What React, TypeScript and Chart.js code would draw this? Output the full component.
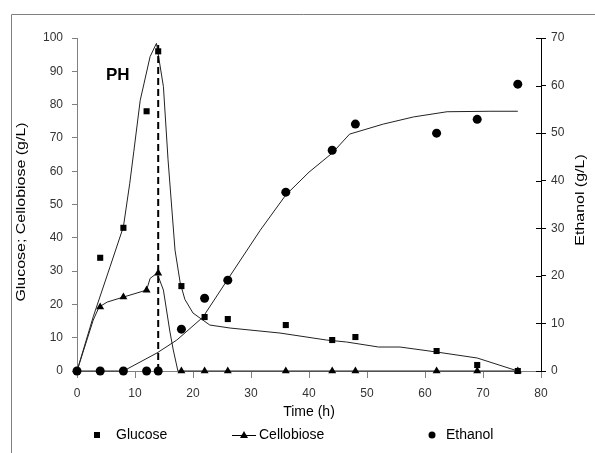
import React, { useEffect, useRef } from 'react';
import { Chart, registerables } from 'chart.js';
Chart.register(...registerables);

// Measured samples
const sampleTimes = [0, 4, 8, 12, 14, 18, 22, 26, 36, 44, 48, 62, 69, 76];
const glucose = [0, 34, 43, 78, 96, 25.5, 16.2, 15.6, 13.8, 9.3, 10.2, 6, 1.8, 0];
const cellobiose = [0, 19.2, 22.2, 24.3, 29.4, 0, 0, 0, 0, 0, 0, 0, 0, 0];
const ethanol = [0, 0, 0, 0, 0, 8.8, 15.3, 19.1, 37.6, 46.4, 51.9, 50, 52.9, 60.3];

// Model curves
const glucoseModelTimes = [0, 2.8, 5.7, 8, 9.1, 9.8, 10.9, 12.6, 13.7, 14.9, 15.7, 16.9, 17.8, 18.6, 20, 22.9, 26.4, 35, 43, 46.5, 52, 55.7, 62, 69, 76];
const glucoseModel = [0, 16.3, 31.3, 43.3, 56.4, 66, 81.3, 94.4, 98.4, 85.4, 63.4, 36.3, 26.4, 21.5, 17.4, 13.8, 12.9, 11.4, 9.3, 8.7, 7.2, 7.2, 5.7, 3.9, 0];
const cellobioseModelTimes = [0, 2.8, 3.8, 5.2, 8, 12, 12.6, 13.8, 14.9, 16, 16.6, 17.4, 76];
const cellobioseModel = [0, 15.3, 19.2, 20.7, 22.2, 24.3, 27.8, 29.4, 24.3, 12, 6.3, 0, 0];
const ethanolModelTimes = [0, 8, 13.8, 17.2, 21.7, 25.9, 31.6, 36, 40, 44, 47, 52.8, 58, 63.8, 71.2, 76];
const ethanolModel = [0, 0, 3.8, 6.5, 11.3, 19.1, 29.6, 37, 41.8, 45.8, 49.8, 51.9, 53.4, 54.5, 54.6, 54.6];

// Dashed marker line at the glucose peak
const peakTime = [14, 14];
const peakLine = [0, 98.5];

const xTicks = { min: 0, max: 80, step: 10 };
const leftTicks = { min: 0, max: 100, step: 10 };
const rightTicks = { min: 0, max: 70, step: 10 };

const labels = {
  x: 'Time (h)',
  left: 'Glucose; Cellobiose (g/L)',
  right: 'Ethanol (g/L)',
  tag: 'PH',
  legend: ['Glucose', 'Cellobiose', 'Ethanol'],
};

const zip = (xs: number[], ys: number[]) => xs.map((x, i) => ({ x, y: ys[i] }));

const FONT = '"Liberation Sans", Arial, sans-serif';

const decorPlugin = {
  id: 'decor',
  afterDraw(chart: any) {
    const ctx = chart.ctx as CanvasRenderingContext2D;
    const yr = chart.scales.y2;
    const xa = chart.scales.x;
    ctx.save();
    // frame lines
    ctx.strokeStyle = '#808080';
    ctx.lineWidth = 1;
    ctx.beginPath();
    ctx.moveTo(11.5, 453);
    ctx.lineTo(11.5, 14.5);
    ctx.lineTo(595, 14.5);
    ctx.stroke();
    // inner ticks of right axis
    ctx.strokeStyle = '#000';
    ctx.beginPath();
    for (let v = rightTicks.min; v <= rightTicks.max; v += rightTicks.step) {
      const p = Math.round(yr.getPixelForValue(v)) + 0.5;
      ctx.moveTo(yr.left - 5, p);
      ctx.lineTo(yr.left, p);
    }
    ctx.stroke();

    ctx.fillStyle = '#000';
    // x title
    ctx.font = `14px ${FONT}`;
    ctx.textAlign = 'center';
    ctx.textBaseline = 'middle';
    ctx.fillText(labels.x, (xa.left + xa.right) / 2, 412);
    // vertical titles (stretched along text)
    const vtitle = (text: string, cx: number, cy: number) => {
      ctx.save();
      ctx.translate(cx, cy);
      ctx.rotate(-Math.PI / 2);
      ctx.scale(1.33, 1);
      ctx.font = `12px ${FONT}`;
      ctx.textAlign = 'center';
      ctx.textBaseline = 'middle';
      ctx.fillText(text, 0, 0);
      ctx.restore();
    };
    vtitle(labels.left, 22, 212);
    vtitle(labels.right, 581, 200);

    // tag
    ctx.font = `bold 17px ${FONT}`;
    ctx.textAlign = 'left';
    ctx.textBaseline = 'alphabetic';
    ctx.fillText(labels.tag, 106, 80);

    // legend
    const ly = 435;
    ctx.font = `14px ${FONT}`;
    ctx.textBaseline = 'middle';
    ctx.fillRect(97 - 3, ly - 3, 6, 6);
    ctx.fillText(labels.legend[0], 116, ly);
    ctx.strokeStyle = '#000';
    ctx.beginPath();
    ctx.moveTo(232, ly + 0.5);
    ctx.lineTo(256, ly + 0.5);
    ctx.stroke();
    ctx.beginPath();
    ctx.moveTo(244, ly - 4);
    ctx.lineTo(248, ly + 3);
    ctx.lineTo(240, ly + 3);
    ctx.closePath();
    ctx.fill();
    ctx.fillText(labels.legend[1], 259, ly);
    ctx.beginPath();
    ctx.arc(432, ly, 3.5, 0, Math.PI * 2);
    ctx.fill();
    ctx.fillText(labels.legend[2], 446, ly);
    ctx.restore();
  },
};

export default function App() {
  const ref = useRef<HTMLCanvasElement | null>(null);
  useEffect(() => {
    if (!ref.current) return;
    const markerBase = { showLine: false, borderColor: '#000', backgroundColor: '#000', pointBorderWidth: 0, clip: false as any };
    const lineBase = { pointRadius: 0, borderColor: '#222', borderWidth: 1, fill: false, tension: 0, clip: false as any };
    const chart = new Chart(ref.current, {
      type: 'line',
      data: {
        datasets: [
          { ...markerBase, label: 'Glucose', data: zip(sampleTimes, glucose), pointStyle: 'rect', pointRadius: 4.3, yAxisID: 'y' },
          { ...markerBase, label: 'Cellobiose', data: zip(sampleTimes, cellobiose), pointStyle: 'triangle', pointRadius: 4.6, yAxisID: 'y' },
          { ...markerBase, label: 'Ethanol', data: zip(sampleTimes, ethanol), pointStyle: 'circle', pointRadius: 4.5, yAxisID: 'y2' },
          { ...lineBase, label: 'peak', data: zip(peakTime, peakLine), borderColor: '#000', borderWidth: 2, borderDash: [7, 4], yAxisID: 'y' },
          { ...lineBase, label: 'Glucose model', data: zip(glucoseModelTimes, glucoseModel), yAxisID: 'y' },
          { ...lineBase, label: 'Cellobiose model', data: zip(cellobioseModelTimes, cellobioseModel), yAxisID: 'y' },
          { ...lineBase, label: 'Ethanol model', data: zip(ethanolModelTimes, ethanolModel), yAxisID: 'y2' },
        ],
      },
      options: {
        animation: false,
        responsive: false,
        devicePixelRatio: 1,
        layout: { padding: { top: 38, left: 0, right: 0, bottom: 0 } },
        plugins: { legend: { display: false }, tooltip: { enabled: false }, title: { display: false } },
        scales: {
          x: {
            type: 'linear',
            min: xTicks.min,
            max: xTicks.max,
            ticks: { stepSize: xTicks.step, color: '#333', font: { family: FONT, size: 12 }, padding: 8, maxRotation: 0 },
            grid: { drawOnChartArea: false, drawTicks: true, tickLength: 7, color: '#808080' },
            border: { display: true, color: '#808080', width: 1 },
            afterFit: (s: any) => { s.height = 82; },
          },
          y: {
            type: 'linear',
            position: 'left',
            min: leftTicks.min,
            max: leftTicks.max,
            ticks: { stepSize: leftTicks.step, color: '#333', font: { family: FONT, size: 12 }, padding: 9 },
            grid: { drawOnChartArea: false, drawTicks: true, tickLength: 5, color: '#808080' },
            border: { display: true, color: '#808080', width: 1 },
            afterFit: (s: any) => { s.width = 77; },
          },
          y2: {
            type: 'linear',
            position: 'right',
            min: rightTicks.min,
            max: rightTicks.max,
            ticks: { stepSize: rightTicks.step, color: '#333', font: { family: FONT, size: 12 }, padding: 5 },
            grid: { drawOnChartArea: false, drawTicks: true, tickLength: 5, color: '#000' },
            border: { display: true, color: '#000', width: 1 },
            afterFit: (s: any) => { s.width = 54; },
          },
        },
      },
      plugins: [decorPlugin],
    });
    return () => chart.destroy();
  }, []);
  return (
    <div style={{ position: 'absolute', left: 0, top: 0, width: 595, height: 453, background: '#fff' }}>
      <canvas ref={ref} width={595} height={453} />
    </div>
  );
}
